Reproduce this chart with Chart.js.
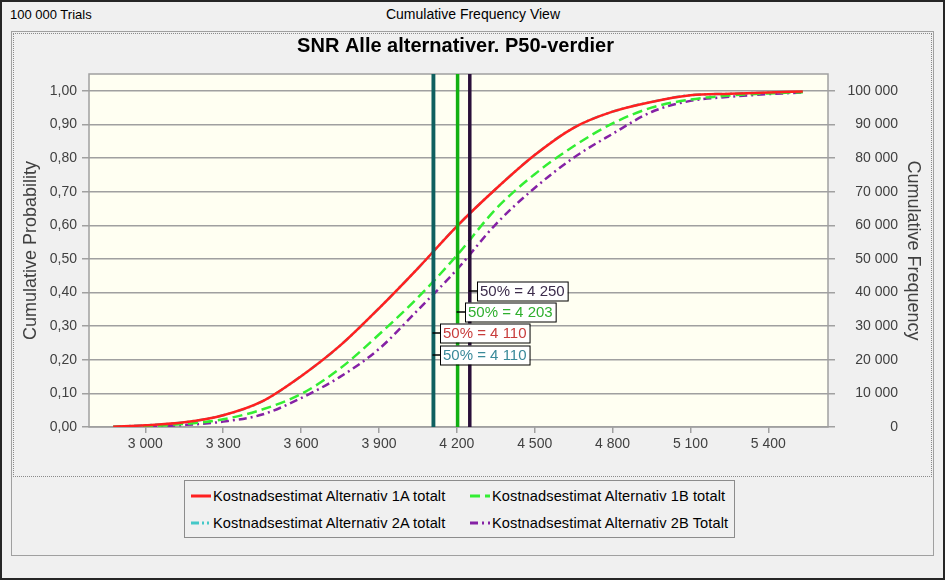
<!DOCTYPE html>
<html>
<head>
<meta charset="utf-8">
<script src="https://cdn.jsdelivr.net/npm/chart.js@4.4.1/dist/chart.umd.min.js"></script>
<style>
  body { margin: 0; background: #f0f0f0; }
  #win { position: relative; width: 945px; height: 580px; background: #f0f0f0; overflow: hidden;
         font-family: "Liberation Sans", Arial, sans-serif; }
  #frame { position: absolute; left: 0; top: 0; width: 941px; height: 576px; border: 2px solid #262626; }
  .hdr { position: absolute; top: 7px; font-size: 13px; color: #000; white-space: nowrap; }
  #outer { position: absolute; left: 11px; top: 31px; width: 921px; height: 523px; border: 1px solid #a0a0a0; }
  #inner { position: absolute; left: 13px; top: 33px; width: 917px; height: 442px; border: 1px dotted #8a8a8a; }
  #legend { position: absolute; left: 184px; top: 480px; width: 549px; height: 56px; border: 1px solid #8c8c8c;
            background: #f0f0f0; font-size: 14.6px; letter-spacing: 0.1px; color: #000; }
  .item { position: absolute; white-space: nowrap; height: 18px; line-height: 18px; }
  .item svg { position: absolute; left: 0; top: 7px; }
  .item span { position: absolute; left: 22px; top: 0; }
  canvas { position: absolute; left: 0; top: 0; }
</style>
</head>
<body>
<div id="win">
  <div id="frame"></div>
  <div class="hdr" style="left:10px">100 000 Trials</div>
  <div class="hdr" style="left:473px;transform:translateX(-50%);font-size:14px;top:6px">Cumulative Frequency View</div>
  <div id="outer"></div>
  <div id="inner"></div>
  <div id="legend"></div>
  <canvas id="chart" width="945" height="580"></canvas>
</div>

<script>
// === DATA ===
const costValues = [2876, 3000, 3150, 3300, 3450, 3600, 3750, 3900, 4050, 4200,
                    4350, 4500, 4650, 4800, 4950, 5100, 5250, 5400, 5533];

const alt1A = [0.001, 0.005, 0.014, 0.035, 0.076, 0.151, 0.242, 0.353, 0.472, 0.597,
               0.708, 0.809, 0.890, 0.938, 0.967, 0.987, 0.991, 0.995, 0.998];
const alt1B = [0.000, 0.002, 0.009, 0.023, 0.052, 0.098, 0.174, 0.275, 0.385, 0.510,
               0.648, 0.752, 0.835, 0.903, 0.950, 0.974, 0.986, 0.992, 0.996];
const alt2A = [0.001, 0.005, 0.014, 0.035, 0.076, 0.151, 0.242, 0.353, 0.472, 0.597,
               0.708, 0.809, 0.890, 0.938, 0.967, 0.987, 0.991, 0.995, 0.998];
const alt2B = [0.000, 0.001, 0.006, 0.016, 0.037, 0.086, 0.149, 0.232, 0.348, 0.468,
               0.603, 0.711, 0.801, 0.872, 0.937, 0.970, 0.982, 0.990, 0.995];

const seriesNames = ["Kostnadsestimat Alternativ 1A totalt", "Kostnadsestimat Alternativ 1B totalt",
                     "Kostnadsestimat Alternativ 2A totalt", "Kostnadsestimat Alternativ 2B Totalt"];
const p50Values = [4110, 4203, 4110, 4250];

const xTicks = [3000, 3300, 3600, 3900, 4200, 4500, 4800, 5100, 5400];
const probTicks = [0, 0.1, 0.2, 0.3, 0.4, 0.5, 0.6, 0.7, 0.8, 0.9, 1.0];
const freqTicks = [0, 10000, 20000, 30000, 40000, 50000, 60000, 70000, 80000, 90000, 100000];

// === STYLES ===
const lineColors = ["#ff2020", "#33ee33", "#44c8c8", "#8522a5"];
const lineDashes = [[], [10, 5], [8, 3, 2, 3, 2, 3], [8, 4, 2, 4]];
const markerColors = ["#0f6060", "#12b012", "#0f6060", "#2a0f3a"];
const labelColors = ["#c83c3c", "#2faf2f", "#3a8a9a", "#3c2c4c"];
const labelRowOffset = [259, 238, 281, 217]; // px below plot top

function spaced(v) {
  return String(v).replace(/\B(?=(\d{3})+(?!\d))/g, " ");
}

// === LEGEND (html) ===
const legendPos = [[6, 6], [285, 6], [6, 33], [285, 33]];
let legendHtml = "";
seriesNames.forEach((name, i) => {
  const dash = lineDashes[i].length ? `stroke-dasharray="${lineDashes[i].join(" ")}"` : "";
  legendHtml += `
    <div class="item" style="left:${legendPos[i][0]}px;top:${legendPos[i][1]}px">
      <svg width="20" height="4"><line x1="0" y1="2" x2="20" y2="2" stroke="${lineColors[i]}" stroke-width="3" ${dash}/></svg>
      <span>${name}</span>
    </div>`;
});
document.getElementById("legend").innerHTML = legendHtml;

// === PLUGIN: plot background, border, P50 lines and labels ===
const p50Plugin = {
  id: "p50",
  beforeDraw(chart) {
    const a = chart.chartArea, ctx = chart.ctx;
    ctx.save();
    ctx.fillStyle = "#fffff2";
    ctx.fillRect(a.left, a.top, a.right - a.left, a.bottom - a.top);
    ctx.restore();
  },
  beforeDatasetsDraw(chart) {
    const a = chart.chartArea, ctx = chart.ctx;
    ctx.save();
    ctx.strokeStyle = "#a0a0a0";
    ctx.lineWidth = 1.5;
    ctx.strokeRect(a.left, a.top, a.right - a.left, a.bottom - a.top);
    ctx.restore();
  },
  afterDatasetsDraw(chart) {
    const a = chart.chartArea, ctx = chart.ctx, xs = chart.scales.x;
    ctx.save();
    p50Values.forEach((v, i) => {
      const x = xs.getPixelForValue(v);
      ctx.strokeStyle = markerColors[i];
      ctx.lineWidth = 3.5;
      ctx.beginPath();
      ctx.moveTo(x, a.top);
      ctx.lineTo(x, a.bottom);
      ctx.stroke();
    });
    ctx.font = '15px "Liberation Sans", Arial, sans-serif';
    ctx.textBaseline = "middle";
    p50Values.forEach((v, i) => {
      const x = xs.getPixelForValue(v);
      const y = a.top + labelRowOffset[i];
      const text = "50% = " + spaced(v);
      const w = ctx.measureText(text).width + 6;
      const bx = Math.round(x) + 7;
      ctx.strokeStyle = "#000";
      ctx.lineWidth = 1.5;
      ctx.beginPath();
      ctx.moveTo(x - 1, y);
      ctx.lineTo(bx, y);
      ctx.stroke();
      ctx.fillStyle = "#ffffff";
      ctx.fillRect(bx, y - 9.5, w, 19);
      ctx.lineWidth = 1;
      ctx.strokeRect(bx + 0.5, y - 9, w, 19);
      ctx.fillStyle = labelColors[i];
      ctx.fillText(text, bx + 3, y + 1);
    });
    ctx.restore();
  }
};

// === CHART ===
const seriesData = [alt1A, alt1B, alt2A, alt2B];

new Chart(document.getElementById("chart"), {
  type: "line",
  data: {
    datasets: seriesData.map((s, i) => ({
      label: seriesNames[i],
      data: costValues.map((c, j) => ({ x: c, y: s[j] })),
      borderColor: lineColors[i],
      borderDash: lineDashes[i],
      borderWidth: 2.5,
      pointRadius: 0,
      fill: false,
      cubicInterpolationMode: "monotone"
    }))
  },
  options: {
    responsive: false,
    animation: false,
    devicePixelRatio: 1,
    layout: { padding: { left: 13, right: 47, top: 0, bottom: 103 } },
    plugins: {
      legend: { display: false },
      tooltip: { enabled: false },
      title: {
        display: true,
        text: "SNR Alle alternativer. P50-verdier",
        color: "#000",
        font: { family: '"Liberation Sans", Arial, sans-serif', size: 20, weight: "bold", lineHeight: 1.2 },
        padding: { top: 34, bottom: 16 }
      }
    },
    scales: {
      x: {
        type: "linear",
        min: 2783,
        max: 5630,
        afterBuildTicks: s => { s.ticks = xTicks.map(v => ({ value: v })); },
        afterFit: s => { s.height = 50; },
        grid: { drawOnChartArea: false, tickLength: 6, color: "#a0a0a0", lineWidth: 1.5 },
        border: { display: false },
        ticks: {
          color: "#404040", padding: 3, maxRotation: 0, autoSkip: false,
          font: { family: '"Liberation Sans", Arial, sans-serif', size: 14 },
          callback: v => spaced(v)
        }
      },
      y: {
        position: "left",
        min: 0,
        max: 1.05,
        afterBuildTicks: s => { s.ticks = probTicks.map(v => ({ value: v })); },
        afterFit: s => { s.width = 76; },
        grid: { color: "#a0a0a0", lineWidth: 1.5, tickLength: 7 },
        border: { display: false },
        title: {
          display: true, text: "Cumulative Probability", color: "#404040",
          font: { family: '"Liberation Sans", Arial, sans-serif', size: 18, lineHeight: 1.2 },
          padding: { top: 7.2, bottom: 0 }
        },
        ticks: {
          color: "#404040", padding: 5,
          font: { family: '"Liberation Sans", Arial, sans-serif', size: 14 },
          callback: v => v.toFixed(2).replace(".", ",")
        }
      },
      y2: {
        position: "right",
        min: 0,
        max: 105000,
        afterBuildTicks: s => { s.ticks = freqTicks.map(v => ({ value: v })); },
        afterFit: s => { s.width = 70; },
        grid: { drawOnChartArea: false, color: "#a0a0a0", lineWidth: 1.5, tickLength: 7 },
        border: { display: false },
        title: {
          display: true, text: "Cumulative Frequency", color: "#404040",
          font: { family: '"Liberation Sans", Arial, sans-serif', size: 18, lineHeight: 1.2 },
          padding: { top: -25.8, bottom: 0 }
        },
        ticks: {
          color: "#404040", padding: 5, crossAlign: "far",
          font: { family: '"Liberation Sans", Arial, sans-serif', size: 14 },
          callback: v => spaced(v)
        }
      }
    }
  },
  plugins: [p50Plugin]
});
</script>
</body>
</html>
